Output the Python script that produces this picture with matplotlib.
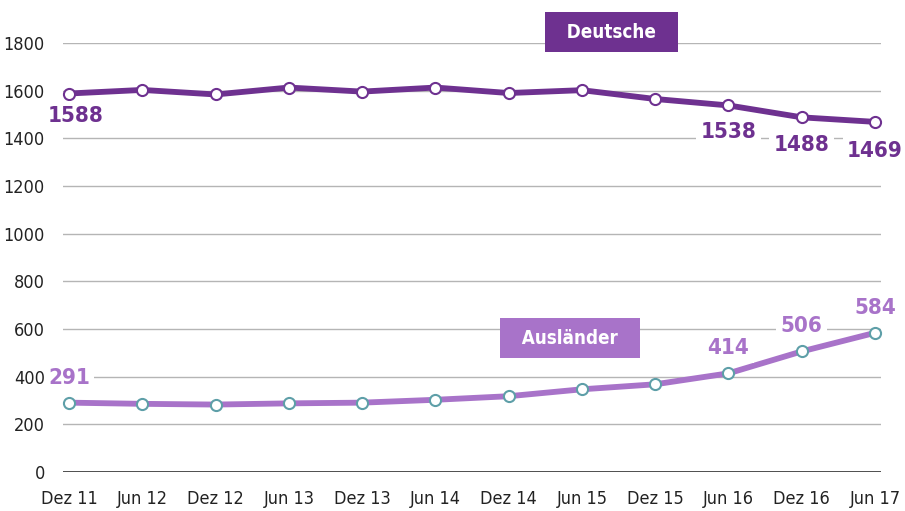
import matplotlib
matplotlib.use("Agg")
import matplotlib.pyplot as plt

# --- Daten ---
perioden = ["Dez 11", "Jun 12", "Dez 12", "Jun 13", "Dez 13", "Jun 14",
            "Dez 14", "Jun 15", "Dez 15", "Jun 16", "Dez 16", "Jun 17"]
deutsche = [1588, 1603, 1584, 1613, 1596, 1613, 1590, 1602, 1565, 1538, 1488, 1469]
auslaender = [291, 286, 283, 288, 291, 303, 318, 347, 368, 414, 506, 584]
y_ticks = [0, 200, 400, 600, 800, 1000, 1200, 1400, 1600, 1800]

# Beschriftete Punkte (Index) und Versatz in Punkten
deutsche_labels = {0: (5, -16), 9: (0, -19), 10: (0, -20), 11: (0, -21)}
auslaender_labels = {0: (0, 18), 9: (0, 18), 10: (0, 18), 11: (0, 18)}

DUNKEL = "#6e3190"
HELL = "#a873c9"
TEAL = "#5e9fa8"

# DejaVu Sans Condensed als schmale Schrift
plt.rcParams["font.family"] = ["DejaVu Sans"]
plt.rcParams["font.stretch"] = "condensed"

fig = plt.figure(figsize=(9.05, 5.11), dpi=100)
ax = fig.add_axes([0.0696, 0.0763, 0.9039, 0.8396])

x = list(range(len(perioden)))

ax.plot(x, deutsche, color=DUNKEL, lw=4.2, marker="o", ms=8,
        mfc="white", mec=DUNKEL, mew=1.5, zorder=4, clip_on=False)
ax.plot(x, auslaender, color=HELL, lw=4.2, marker="o", ms=8,
        mfc="white", mec=TEAL, mew=1.5, zorder=4, clip_on=False)

for i, (dx, dy) in deutsche_labels.items():
    ax.annotate(str(deutsche[i]), (x[i], deutsche[i]), xytext=(dx, dy),
                textcoords="offset points", ha="center", va="center",
                fontsize=16, fontweight="bold", color=DUNKEL, zorder=5,
                bbox=dict(boxstyle="square,pad=0.2", fc="white", ec="none"))
for i, (dx, dy) in auslaender_labels.items():
    ax.annotate(str(auslaender[i]), (x[i], auslaender[i]), xytext=(dx, dy),
                textcoords="offset points", ha="center", va="center",
                fontsize=16, fontweight="bold", color=HELL, zorder=5,
                bbox=dict(boxstyle="square,pad=0.2", fc="white", ec="none"))

# Serienbeschriftungen als Kästen
ax.text(7.4, 1846, "  Deutsche  ", ha="center", va="center", fontsize=13.5,
        fontweight="bold", color="white", zorder=6, clip_on=False,
        bbox=dict(boxstyle="square,pad=0.55", fc=DUNKEL, ec="none"))
ax.text(6.84, 562, "  Ausländer  ", ha="center", va="center", fontsize=13.5,
        fontweight="bold", color="white", zorder=6,
        bbox=dict(boxstyle="square,pad=0.55", fc=HELL, ec="none"))

ax.set_xlim(-0.082, 11.082)
ax.set_ylim(0, 1800)
ax.set_yticks(y_ticks)
ax.set_xticks(x)
ax.set_xticklabels(perioden)
ax.tick_params(axis="both", length=0, labelsize=13, colors="#222222")
ax.tick_params(axis="y", pad=13)
ax.tick_params(axis="x", pad=13)

ax.grid(axis="y", color="#b5b5b5", lw=1)
ax.axhline(0, color="#333333", lw=1.2, zorder=3)
for s in ax.spines.values():
    s.set_visible(False)

fig.savefig("out.png", dpi=100)
